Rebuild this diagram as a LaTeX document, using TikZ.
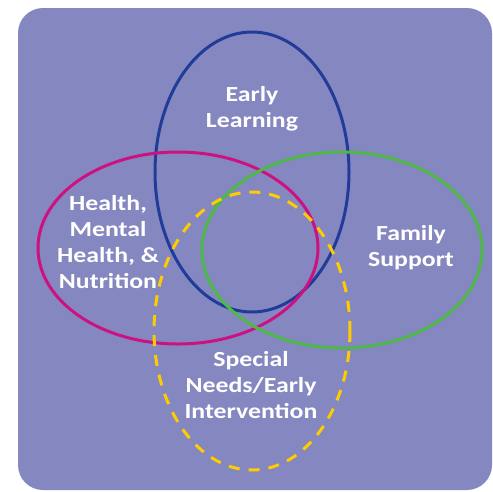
\documentclass[tikz,border=0pt]{standalone}
\usepackage{fontspec}
\newfontfamily\vennfont{Carlito}[FakeStretch=1.2]
\definecolor{panel}{RGB}{133,135,192}
\definecolor{earlyblue}{RGB}{32,60,152}
\definecolor{healthpink}{RGB}{204,18,128}
\definecolor{familygreen}{RGB}{78,184,72}
\definecolor{needsyellow}{RGB}{255,204,0}
\begin{document}
\begin{tikzpicture}[x=1pt, y=-1pt,
    ring/.style={line width=3pt},
    label/.style={text=white, align=center, inner sep=0pt,
      font=\vennfont\fontsize{21.5}{26}\selectfont\bfseries}]
    \useasboundingbox (0,0) rectangle (493,491);
    \fill[panel, rounded corners=25pt] (18,8) rectangle (492,490);
    % the four circles
    \draw[ring, earlyblue] (252,172) ellipse [x radius=97, y radius=140];
    \draw[ring, healthpink] (178,248) ellipse [x radius=140, y radius=96];
    \draw[ring, familygreen] (342,250) ellipse [x radius=140, y radius=98];
    \draw[ring, needsyellow, dash pattern=on 11pt off 9pt] (252,331) ellipse [x radius=98, y radius=139];
    % labels
    \node[label] (early) at (252,109) {Early\\Learning};
    \node[label] (health) at (108,242) {Health,\\Mental\\Health, \&\\Nutrition};
    \node[label] (family) at (411,248) {Family\\Support};
    \node[label] (needs) at (251,385) {Special\\Needs/Early\\Intervention};
\end{tikzpicture}
\end{document}
